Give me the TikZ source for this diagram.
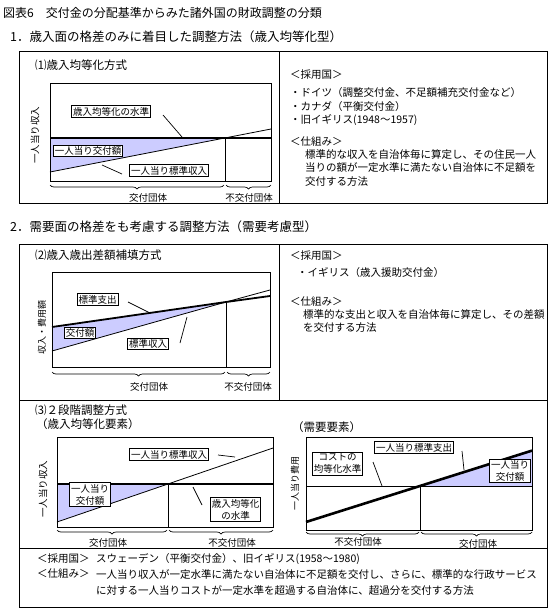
\documentclass[tikz,border=0pt]{standalone}
\usepackage{fontspec}
\setmainfont{Noto Sans CJK JP}
\usetikzlibrary{decorations.pathreplacing}
\definecolor{fillblue}{RGB}{204,204,255}
\begin{document}
\begin{tikzpicture}[x=1pt,y=-1pt,
  boxline/.style={draw=black,line width=1pt},
  thinline/.style={draw=black,line width=0.8pt},
  thickline/.style={draw=black,line width=2.6pt},
  leader/.style={draw=black,line width=0.7pt},
  shade/.style={fill=fillblue},
  lab/.style={draw=black,fill=white,line width=0.8pt,font=\fontsize{9.5}{11}\selectfont,inner sep=1.4pt,align=center},
  txt/.style={anchor=west,inner sep=0pt,font=\fontsize{10.5}{12}\selectfont},
  ttl/.style={anchor=west,inner sep=0pt,font=\fontsize{12}{14}\selectfont},
  head/.style={anchor=west,inner sep=0pt,font=\fontsize{12.5}{14}\selectfont},
  ctitle/.style={anchor=west,inner sep=0pt,font=\fontsize{11.5}{13}\selectfont},
  grp/.style={inner sep=0pt,font=\fontsize{9.5}{11}\selectfont},
  ylab/.style={inner sep=0pt,rotate=90,font=\fontsize{9.5}{11}\selectfont},
  bracedec/.style={draw=black,line width=0.7pt,decorate,decoration={brace,mirror,amplitude=4pt}}]
\useasboundingbox (0,0) rectangle (554,616);
\fill[white] (0,0) rectangle (554,616);

% ---------- title and headings
\node[ttl] (title) at (3,13) {図表6　交付金の分配基準からみた諸外国の財政調整の分類};
\node[head] (head1) at (10,37) {1．歳入面の格差のみに着目した調整方法（歳入均等化型）};
\node[head] (head2) at (10,227) {2．需要面の格差をも考慮する調整方法（需要考慮型）};

% ---------- outer boxes
\draw[boxline] (19,51) rectangle (547,203);
\draw[boxline] (279,51) -- (279,203);
\draw[boxline] (19,244) rectangle (547,607);
\draw[boxline] (279,244) -- (279,400);
\draw[boxline] (19,400) -- (547,400);
\draw[boxline] (19,548) -- (547,548);

% ========== Chart 1
\node[ctitle] (c1t) at (35,65) {⑴歳入均等化方式};
\fill[shade] (50,138) -- (225,138) -- (50,172) -- cycle;
\draw[thinline] (50,172) -- (271,129);
\draw[thinline] (225,138) -- (225,181);
\draw[thickline] (50,138) -- (271,138);
\draw[boxline] (50,83) rectangle (271,181);
\node[lab] (c1a) at (111,111.5) {歳入均等化の水準};
\coordinate (c1a1) at (163,115);
\coordinate (c1a2) at (182,137);
\draw[leader] (c1a1) -- (c1a2);
\node[lab] (c1b) at (88,151) {一人当り交付額};
\node[lab] (c1c) at (169,170.5) {一人当り標準収入};
\coordinate (c1c1) at (102,165);
\coordinate (c1c2) at (122,174);
\draw[leader] (c1c1) -- (c1c2);
\coordinate (c1br1) at (50,185);
\coordinate (c1br2) at (224,185);
\coordinate (c1br3) at (226,185);
\coordinate (c1br4) at (271,185);
\draw[bracedec] (c1br1) -- (c1br2);
\draw[bracedec] (c1br3) -- (c1br4);
\node[grp] (c1g1) at (148,198) {交付団体};
\node[grp] (c1g2) at (249,198) {不交付団体};
\node[ylab] (c1y) at (35,135) {一人当り収入};

% right text box 1
\node[txt] (r1a) at (290,75) {＜採用国＞};
\node[txt] (r1b) at (290,93) {・ドイツ（調整交付金、不足額補充交付金など）};
\node[txt] (r1c) at (290,107) {・カナダ（平衡交付金）};
\node[txt] (r1d) at (290,120) {・旧イギリス(1948～1957)};
\node[txt] (r1e) at (290,142) {＜仕組み＞};
\node[txt] (r1f) at (305,155) {標準的な収入を自治体毎に算定し、その住民一人};
\node[txt] (r1g) at (305,168) {当りの額が一定水準に満たない自治体に不足額を};
\node[txt] (r1h) at (305,182) {交付する方法};

% ========== Chart 2
\node[ctitle] (c2t) at (35,255) {⑵歳入歳出差額補填方式};
\fill[shade] (52,327) -- (226,302) -- (52,351) -- cycle;
\draw[thinline] (52,351) -- (226,302) -- (270,290);
\draw[thinline] (226,302) -- (226,367);
\draw[draw=black,line width=1.8pt] (52,327) -- (226,302) -- (270,296);
\draw[boxline] (52,272) rectangle (270,367);
\node[lab] (c2a) at (97.5,299.5) {標準支出};
\coordinate (c2a1) at (128,302);
\coordinate (c2a2) at (150,313);
\draw[leader] (c2a1) -- (c2a2);
\node[lab] (c2b) at (80,333) {交付額};
\node[lab] (c2c) at (148,344) {標準収入};
\coordinate (c2c1) at (180,343);
\coordinate (c2c2) at (187,317);
\draw[leader] (c2c1) -- (c2c2);
\coordinate (c2br1) at (52,372);
\coordinate (c2br2) at (225,372);
\coordinate (c2br3) at (227,372);
\coordinate (c2br4) at (270,372);
\draw[bracedec] (c2br1) -- (c2br2);
\draw[bracedec] (c2br3) -- (c2br4);
\node[grp] (c2g1) at (149,387) {交付団体};
\node[grp] (c2g2) at (248,387) {不交付団体};
\node[ylab,font=\fontsize{9}{11}\selectfont] (c2y) at (42,327) {収入・費用額};

% right text box 2
\node[txt] (r2a) at (290,256) {＜採用国＞};
\node[txt] (r2b) at (297,273) {・イギリス（歳入援助交付金）};
\node[txt] (r2c) at (290,302) {＜仕組み＞};
\node[txt] (r2d) at (303,315) {標準的な支出と収入を自治体毎に算定し、その差額};
\node[txt] (r2e) at (303,328) {を交付する方法};

% ========== Chart 3
\node[ctitle] (c3t) at (35,410) {⑶２段階調整方式};
\node[ctitle] (c3s) at (36,424) {（歳入均等化要素）};
\fill[shade] (57,484) -- (168,484) -- (57,522) -- cycle;
\draw[thinline] (57,522) -- (273,448);
\draw[thinline] (168,484) -- (168,527);
\draw[thickline] (57,484) -- (273,484);
\draw[boxline] (57,437) rectangle (273,527);
\node[lab] (c3a) at (169,454.5) {一人当り標準収入};
\coordinate (c3a1) at (218,455);
\coordinate (c3a2) at (235,457);
\draw[leader] (c3a1) -- (c3a2);
\node[lab,font=\fontsize{9.5}{12}\selectfont] (c3b) at (90,494.5) {一人当り\\交付額};
\node[lab,font=\fontsize{9.5}{12}\selectfont] (c3c) at (235.5,509.5) {歳入均等化\\の水準};
\coordinate (c3c1) at (193,487);
\coordinate (c3c2) at (202,505);
\draw[leader] (c3c1) -- (c3c2);
\coordinate (c3br1) at (57,530);
\coordinate (c3br2) at (167,530);
\coordinate (c3br3) at (169,530);
\coordinate (c3br4) at (273,530);
\draw[bracedec] (c3br1) -- (c3br2);
\draw[bracedec] (c3br3) -- (c3br4);
\node[grp] (c3g1) at (108,543) {交付団体};
\node[grp] (c3g2) at (232,543) {不交付団体};
\node[ylab] (c3y) at (43,489) {一人当り収入};

% ========== Chart 4
\node[ctitle] (c4t) at (292,427) {（需要要素）};
\fill[shade] (420,486) -- (532,486) -- (532,450.6) -- cycle;
\draw[thinline] (306,486) -- (532,486);
\draw[thinline] (420,486) -- (420,530);
\draw[thickline] (306,522) -- (532,450.6);
\draw[boxline] (306,437) rectangle (532,530);
\node[lab] (c4a) at (414,447.5) {一人当り標準支出};
\coordinate (c4a1) at (462,451);
\coordinate (c4a2) at (464,470);
\draw[leader] (c4a1) -- (c4a2);
\node[lab,font=\fontsize{9.5}{12}\selectfont] (c4b) at (337.5,463.5) {コストの\\均等化水準};
\coordinate (c4b1) at (373,462);
\coordinate (c4b2) at (382,486);
\draw[leader] (c4b1) -- (c4b2);
\node[lab,font=\fontsize{9.5}{12}\selectfont] (c4c) at (510,471) {一人当り\\交付額};
\coordinate (c4br1) at (306,532);
\coordinate (c4br2) at (419,532);
\coordinate (c4br3) at (421,532);
\coordinate (c4br4) at (532,532);
\draw[bracedec] (c4br1) -- (c4br2);
\draw[bracedec] (c4br3) -- (c4br4);
\node[grp] (c4g1) at (358,542) {不交付団体};
\node[grp] (c4g2) at (478,543.5) {交付団体};
\node[ylab,font=\fontsize{9}{11}\selectfont] (c4y) at (295,483) {一人当り費用};

% ========== bottom text
\node[txt] (b1) at (37,559) {＜採用国＞};
\node[txt] (b2) at (96,559) {スウェーデン（平衡交付金）、旧イギリス(1958～1980)};
\node[txt] (b3) at (37,574) {＜仕組み＞};
\node[txt] (b4) at (96,574) {一人当り収入が一定水準に満たない自治体に不足額を交付し、さらに、標準的な行政サービス};
\node[txt] (b5) at (96,590) {に対する一人当りコストが一定水準を超過する自治体に、超過分を交付する方法};
\end{tikzpicture}
\end{document}
